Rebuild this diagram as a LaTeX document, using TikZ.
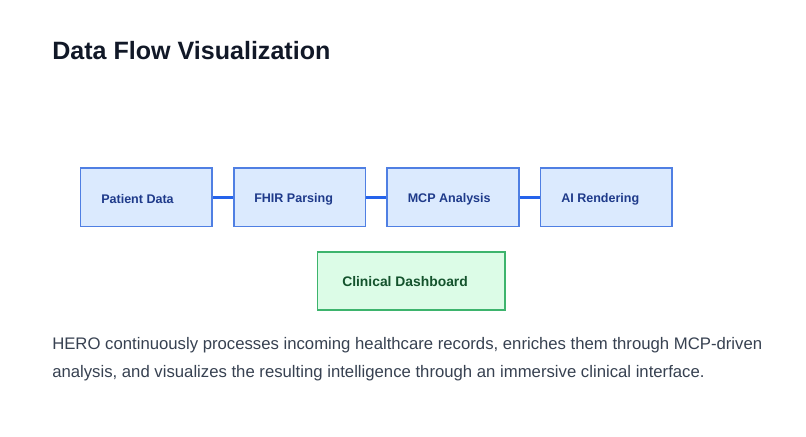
\documentclass[tikz,border=0pt]{standalone}
\usepackage{fontspec}
\setmainfont{Liberation Sans}
\definecolor{boxfill}{HTML}{DBEAFE}
\definecolor{boxline}{HTML}{4F7FE3}
\definecolor{boxtext}{HTML}{1E3A8A}
\definecolor{greenfill}{HTML}{DCFCE7}
\definecolor{greenline}{HTML}{3DB46D}
\definecolor{greentext}{HTML}{14532D}
\definecolor{titlecol}{HTML}{111827}
\definecolor{bodycol}{HTML}{374151}
\definecolor{linkcol}{HTML}{2563EB}
\tikzset{x=0.75pt,y=-0.75pt,
 flowbox/.style={draw=boxline,fill=boxfill,line width=1.2pt,minimum width=98.8pt,minimum height=43.7pt,inner sep=0},
 endbox/.style={draw=greenline,fill=greenfill,line width=1.2pt,minimum width=140.6pt,minimum height=43.7pt,inner sep=0},
 flowlabel/.style={text=boxtext,font=\fontsize{9.4pt}{11pt}\selectfont\bfseries,anchor=west,inner sep=0},
 endlabel/.style={text=greentext,font=\fontsize{10.4pt}{12pt}\selectfont\bfseries,anchor=west,inner sep=0},
 bodytext/.style={text=bodycol,font=\fontsize{12.54pt}{15pt}\selectfont,anchor=west,inner sep=0},
 titletext/.style={text=titlecol,font=\fontsize{18.8pt}{22pt}\selectfont\bfseries,anchor=west,inner sep=0},
 link/.style={draw=linkcol,line width=2pt}}
\begin{document}
\begin{tikzpicture}
\useasboundingbox (0,0) rectangle (806,436);
\fill[white] (0,0) rectangle (806,436);
\node[titletext] (title) at (52,51) {Data Flow Visualization};
\node[flowbox] (a) at (146.4,197.3) {};
\node[flowbox] (b) at (299.7,197.3) {};
\node[flowbox] (c) at (453,197.3) {};
\node[flowbox] (d) at (606.3,197.3) {};
\draw[link] (a) -- (b);
\draw[link] (b) -- (c);
\draw[link] (c) -- (d);
\node[flowlabel] (la) at (101,199.3) {Patient Data};
\node[flowlabel] (lb) at (254,199.3) {FHIR Parsing};
\node[flowlabel] (lc) at (407.5,199.3) {MCP Analysis};
\node[flowlabel] (ld) at (561,199.3) {AI Rendering};
\node[endbox] (e) at (411.2,281) {};
\node[endlabel] (le) at (342,281.5) {Clinical Dashboard};
\node[bodytext] (p1) at (52,345) {HERO continuously processes incoming healthcare records, enriches them through MCP-driven};
\node[bodytext] (p2) at (52,372.8) {analysis, and visualizes the resulting intelligence through an immersive clinical interface.};
\end{tikzpicture}
\end{document}
